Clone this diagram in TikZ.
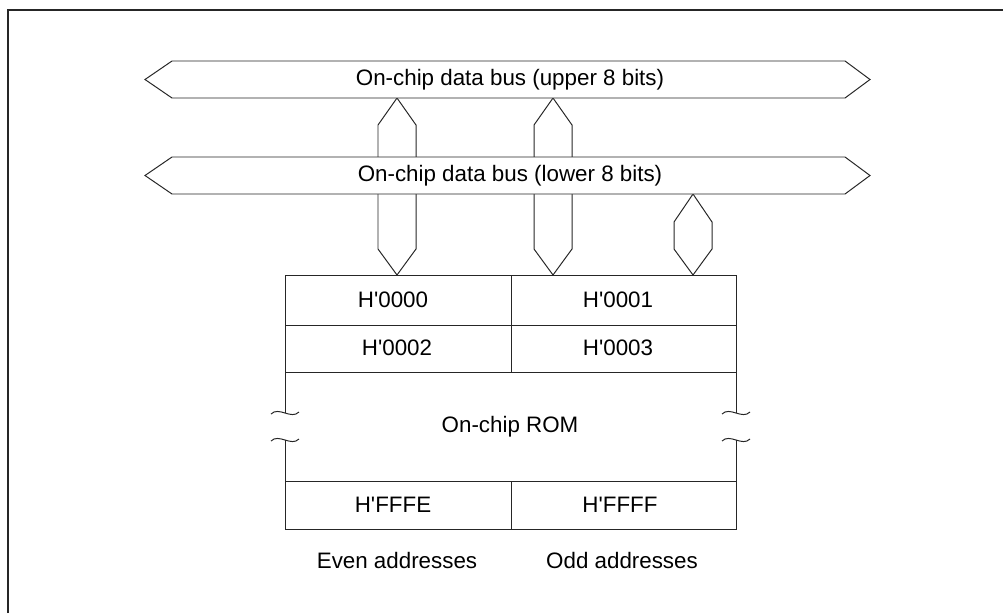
\documentclass[tikz,border=0pt]{standalone}
\usepackage{fontspec}
\setmainfont{Liberation Sans}[Ligatures=TeXOff]
\usetikzlibrary{calc}

\begin{document}
\begin{tikzpicture}[
    x=0.025cm, y=-0.025cm,
    line/.style={line width=0.7pt, black!85, line join=miter},
    bus/.style={line, fill=white},
    txt/.style={font=\fontsize{15.9}{19}\selectfont, inner sep=0pt}
]

    \useasboundingbox (0,0) rectangle (1003,613);
    \draw[line width=1.5pt, black!85] (8,613) -- (8,10) -- (1003,10);

    % stubs from the buses down to the ROM
    \foreach \x in {397,553}
        \draw[line] (\x,98) -- (\x+19,125) -- (\x+19,249) -- (\x,275)
            -- (\x-19,249) -- (\x-19,125) -- cycle;
    \draw[line] (693,194) -- (712,222) -- (712,249) -- (693,275)
        -- (674,249) -- (674,222) -- cycle;

    % buses
    \foreach \y/\name/\part in {79.5/upper/upper, 175.5/lower/lower} {
        \draw[bus] (145,\y) -- (172,\y-18.5) -- (845,\y-18.5) -- (870,\y)
            -- (845,\y+18.5) -- (172,\y+18.5) -- cycle;
        \node[txt] (\name) at (510,\y) {On-chip data bus (\part\ 8 bits)};
    }

    % ROM
    \draw[line] (285,413) -- (285,275) -- (736,275) -- (736,413);
    \draw[line] (285,440) -- (285,529) -- (736,529) -- (736,440);
    \draw[line] (285,325) -- (736,325) (285,372) -- (736,372) (285,481) -- (736,481);
    \draw[line] (511,275) -- (511,372) (511,481) -- (511,529);
    \foreach \x in {285,736}
        \foreach \y in {413,440}
            \draw[line] (\x-14,\y+1) .. controls (\x-6,\y-7) and (\x+6,\y+7) .. (\x+14,\y-1);

    \node[txt] (a0) at (393,300) {H'0000};
    \node[txt] (a1) at (618,300) {H'0001};
    \node[txt] (a2) at (397,348) {H'0002};
    \node[txt] (a3) at (618,348) {H'0003};
    \node[txt] (rom) at (510,427) {On-chip ROM};
    \node[txt] (aE) at (393,505) {H'FFFE};
    \node[txt] (aF) at (620,505) {H'FFFF};

    \node[txt] (even) at (397,560) {Even addresses};
    \node[txt] (odd) at (622,560) {Odd addresses};

\end{tikzpicture}
\end{document}
